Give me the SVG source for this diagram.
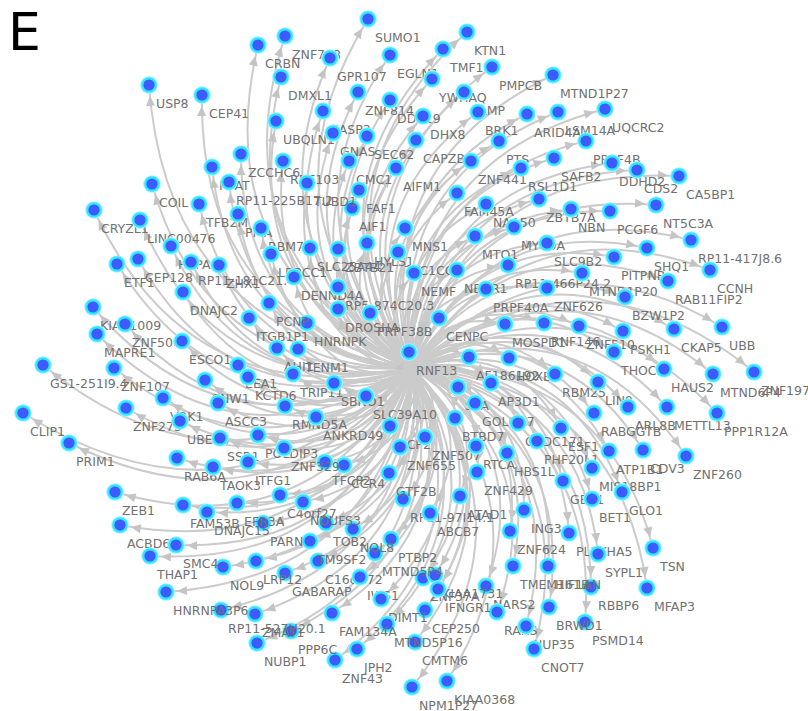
<svg xmlns="http://www.w3.org/2000/svg" width="808" height="711" viewBox="0 0 808 711">
<style>
.node text{font-family:"DejaVu Sans",Verdana,sans-serif;font-size:12.5px;fill:#717171}
#edges path{fill:none;stroke:#cbcbcb;stroke-width:2}
</style>
<defs>
<marker id="ah" markerUnits="userSpaceOnUse" markerWidth="10" markerHeight="9" refX="21" refY="4.5" orient="auto" overflow="visible"><path d="M0,0L10,4.5L0,9z" fill="#c4c4c4"/></marker>
<g id="dot"><circle r="8.8" fill="#9ef6ff"/><circle r="7.8" fill="#2ee6ff"/><circle r="5.6" fill="#3d5bff"/></g>
</defs>
<rect width="808" height="711" fill="#fff"/>
<text x="8" y="50" font-family="DejaVu Sans,sans-serif" font-size="52" fill="#000">E</text>
<g id="edges" marker-end="url(#ah)">
<path d="M412,368Q167,332 149,85"/><path d="M412,368Q198,316 202,95"/><path d="M412,368Q208,380 152,184"/><path d="M412,368Q240,371 199,204"/><path d="M412,368Q190,416 94,210"/><path d="M412,368Q217,403 140,220"/><path d="M412,368Q250,211 368,19"/><path d="M412,368Q216,253 285,36"/><path d="M412,368Q206,268 258,45"/><path d="M412,368Q247,246 330,58"/><path d="M412,368Q276,220 390,55"/><path d="M412,368Q230,275 281,77"/><path d="M412,368Q275,252 358,92"/><path d="M412,368Q294,243 390,100"/><path d="M412,368Q245,299 276,121"/><path d="M412,368Q265,275 323,111"/><path d="M412,368Q279,282 333,133"/><path d="M412,368Q297,270 367,136"/><path d="M412,368Q241,329 241,154"/><path d="M412,368Q265,316 283,161"/><path d="M412,368Q232,348 212,167"/><path d="M412,368Q246,348 229,182"/><path d="M412,368Q298,290 349,161"/><path d="M412,368Q314,300 359,190"/><path d="M412,368Q318,312 352,208"/><path d="M412,368Q324,274 396,168"/><path d="M412,368Q286,318 307,183"/><path d="M412,368Q263,361 238,214"/><path d="M412,368Q281,358 261,228"/><path d="M412,368Q353,301 405,228"/><path d="M412,368Q305,178 467,32"/><path d="M412,368Q300,196 443,49"/><path d="M412,368Q306,216 432,79"/><path d="M412,368Q332,186 492,67"/><path d="M412,368Q365,165 553,75"/><path d="M412,368Q328,209 464,92"/><path d="M412,368Q317,238 423,116"/><path d="M412,368Q323,252 416,140"/><path d="M412,368Q343,214 478,112"/><path d="M412,368Q368,195 527,114"/><path d="M412,368Q383,182 558,112"/><path d="M412,368Q405,161 605,109"/><path d="M412,368Q365,220 499,141"/><path d="M412,368Q359,241 471,161"/><path d="M412,368Q408,185 586,141"/><path d="M412,368Q399,206 554,158"/><path d="M412,368Q387,224 521,168"/><path d="M412,368Q365,263 457,193"/><path d="M412,368Q383,256 486,204"/><path d="M412,368Q408,233 539,199"/><path d="M412,368Q428,225 571,209"/><path d="M412,368Q448,210 610,211"/><path d="M412,368Q430,186 612,163"/><path d="M412,368Q445,179 637,170"/><path d="M412,368Q469,165 679,176"/><path d="M412,368Q469,189 656,205"/><path d="M412,368Q500,192 691,240"/><path d="M412,368Q243,403 171,246"/><path d="M412,368Q223,434 117,264"/><path d="M412,368Q231,423 138,259"/><path d="M412,368Q259,403 191,262"/><path d="M412,368Q274,394 219,265"/><path d="M412,368Q267,422 183,292"/><path d="M412,368Q228,465 93,307"/><path d="M412,368Q251,461 125,324"/><path d="M412,368Q241,477 97,334"/><path d="M412,368Q286,447 182,341"/><path d="M412,368Q226,514 43,365"/><path d="M412,368Q263,487 114,368"/><path d="M412,368Q313,457 205,380"/><path d="M412,368Q300,483 163,398"/><path d="M412,368Q285,502 126,408"/><path d="M412,368Q317,487 180,421"/><path d="M412,368Q236,546 23,413"/><path d="M412,368Q271,543 69,443"/><path d="M412,368Q331,507 177,458"/><path d="M412,368Q296,367 271,254"/><path d="M412,368Q313,349 310,248"/><path d="M412,368Q327,338 338,249"/><path d="M412,368Q340,324 367,243"/><path d="M412,368Q359,316 398,252"/><path d="M412,368Q317,370 294,277"/><path d="M412,368Q343,357 338,287"/><path d="M412,368Q351,368 338,309"/><path d="M412,368Q369,357 370,313"/><path d="M412,368Q404,361 409,352"/><path d="M412,368Q342,388 307,323"/><path d="M412,368Q311,408 249,318"/><path d="M412,368Q315,393 269,303"/><path d="M412,368Q337,412 277,348"/><path d="M412,368Q347,404 298,349"/><path d="M412,368Q324,436 238,365"/><path d="M412,368Q334,438 248,377"/><path d="M412,368Q355,419 293,374"/><path d="M412,368Q379,407 334,383"/><path d="M412,368Q329,463 218,403"/><path d="M412,368Q364,438 285,406"/><path d="M412,368Q400,400 366,396"/><path d="M412,368Q384,431 316,417"/><path d="M412,368Q362,463 258,435"/><path d="M412,368Q424,406 390,426"/><path d="M412,368Q438,412 400,447"/><path d="M412,368Q344,480 220,438"/><path d="M412,368Q368,481 248,462"/><path d="M412,368Q352,497 213,467"/><path d="M412,368Q406,450 325,462"/><path d="M412,368Q417,444 344,465"/><path d="M412,368Q380,459 284,448"/><path d="M412,368Q391,277 475,236"/><path d="M412,368Q407,257 514,227"/><path d="M412,368Q375,320 414,273"/><path d="M412,368Q395,301 457,270"/><path d="M412,368Q419,278 508,265"/><path d="M412,368Q430,252 547,243"/><path d="M412,368Q459,253 582,273"/><path d="M412,368Q448,274 547,288"/><path d="M412,368Q417,299 486,289"/><path d="M412,368Q406,332 439,318"/><path d="M412,368Q441,309 505,324"/><path d="M412,368Q460,293 544,323"/><path d="M412,368Q479,280 579,326"/><path d="M412,368Q436,340 469,357"/><path d="M412,368Q457,324 509,358"/><path d="M412,368Q486,314 555,374"/><path d="M412,368Q511,301 598,382"/><path d="M412,368Q443,359 458,387"/><path d="M412,368Q458,344 491,383"/><path d="M412,368Q458,360 475,403"/><path d="M412,368Q454,376 455,418"/><path d="M412,368Q487,353 518,423"/><path d="M412,368Q511,338 561,428"/><path d="M412,368Q446,397 425,437"/><path d="M412,368Q504,355 537,441"/><path d="M412,368Q475,381 476,446"/><path d="M412,368Q494,373 507,453"/><path d="M412,368Q521,318 594,413"/><path d="M412,368Q482,214 647,248"/><path d="M412,368Q469,232 614,257"/><path d="M412,368Q522,200 710,270"/><path d="M412,368Q505,222 668,281"/><path d="M412,368Q490,247 625,297"/><path d="M412,368Q551,224 722,327"/><path d="M412,368Q527,244 674,329"/><path d="M412,368Q503,265 623,331"/><path d="M412,368Q507,279 614,352"/><path d="M412,368Q538,268 664,369"/><path d="M412,368Q565,251 713,374"/><path d="M412,368Q585,233 754,372"/><path d="M412,368Q536,301 628,407"/><path d="M412,368Q555,286 667,407"/><path d="M412,368Q583,269 717,413"/><path d="M412,368Q544,331 609,451"/><path d="M412,368Q560,317 643,450"/><path d="M412,368Q584,302 686,456"/><path d="M412,368Q542,346 592,468"/><path d="M412,368Q567,346 622,492"/><path d="M412,368Q533,364 563,481"/><path d="M412,368Q554,362 592,499"/><path d="M412,368Q605,362 653,548"/><path d="M412,368Q618,384 647,588"/><path d="M412,368Q557,388 569,533"/><path d="M412,368Q579,387 598,554"/><path d="M412,368Q589,406 591,587"/><path d="M412,368Q600,426 585,622"/><path d="M412,368Q486,394 477,472"/><path d="M412,368Q487,413 460,496"/><path d="M412,368Q460,437 403,499"/><path d="M412,368Q479,433 430,513"/><path d="M412,368Q525,394 524,510"/><path d="M412,368Q526,410 510,531"/><path d="M412,368Q542,427 513,566"/><path d="M412,368Q559,413 548,566"/><path d="M412,368Q536,447 486,586"/><path d="M412,368Q576,433 549,607"/><path d="M412,368Q552,456 497,612"/><path d="M412,368Q572,451 526,626"/><path d="M412,368Q585,460 534,649"/><path d="M412,368Q555,511 447,681"/><path d="M412,368Q540,528 412,687"/><path d="M412,368Q523,504 415,642"/><path d="M412,368Q515,484 425,610"/><path d="M412,368Q502,469 423,578"/><path d="M412,368Q506,462 435,575"/><path d="M412,368Q513,468 438,589"/><path d="M412,368Q470,462 391,539"/><path d="M412,368Q468,475 375,553"/><path d="M412,368Q442,502 318,561"/><path d="M412,368Q470,493 360,577"/><path d="M412,368Q489,496 381,599"/><path d="M412,368Q502,506 387,624"/><path d="M412,368Q470,523 332,613"/><path d="M412,368Q497,531 357,649"/><path d="M412,368Q490,545 335,660"/><path d="M412,368Q457,548 291,631"/><path d="M412,368Q445,568 257,643"/><path d="M412,368Q432,554 255,614"/><path d="M412,368Q413,565 221,610"/><path d="M412,368Q379,578 166,592"/><path d="M412,368Q431,521 285,573"/><path d="M412,368Q411,527 256,561"/><path d="M412,368Q397,543 223,567"/><path d="M412,368Q430,495 310,541"/><path d="M412,368Q447,472 353,529"/><path d="M412,368Q431,480 326,523"/><path d="M412,368Q400,505 263,523"/><path d="M412,368Q379,506 237,503"/><path d="M412,368Q367,522 207,512"/><path d="M412,368Q352,528 183,505"/><path d="M412,368Q397,484 280,495"/><path d="M412,368Q411,479 303,502"/><path d="M412,368Q443,430 389,473"/><path d="M412,368Q313,549 115,492"/><path d="M412,368Q329,563 120,525"/><path d="M412,368Q365,551 176,545"/><path d="M412,368Q356,567 150,556"/>
</g>
<g id="nodes">
<g id="n1" class="node" transform="translate(149,85)"><use href="#dot"/><text x="7" y="23">USP8</text></g>
<g id="n2" class="node" transform="translate(202,95)"><use href="#dot"/><text x="7" y="23">CEP41</text></g>
<g id="n3" class="node" transform="translate(152,184)"><use href="#dot"/><text x="7" y="23">COIL</text></g>
<g id="n4" class="node" transform="translate(199,204)"><use href="#dot"/><text x="7" y="23">TFB2M</text></g>
<g id="n5" class="node" transform="translate(94,210)"><use href="#dot"/><text x="7" y="23">CRYZL1</text></g>
<g id="n6" class="node" transform="translate(140,220)"><use href="#dot"/><text x="7" y="23">LINC00476</text></g>
<g id="n7" class="node" transform="translate(368,19)"><use href="#dot"/><text x="7" y="23">SUMO1</text></g>
<g id="n8" class="node" transform="translate(285,36)"><use href="#dot"/><text x="7" y="23">ZNF708</text></g>
<g id="n9" class="node" transform="translate(258,45)"><use href="#dot"/><text x="7" y="23">CRBN</text></g>
<g id="n10" class="node" transform="translate(330,58)"><use href="#dot"/><text x="7" y="23">GPR107</text></g>
<g id="n11" class="node" transform="translate(390,55)"><use href="#dot"/><text x="7" y="23">EGLN1</text></g>
<g id="n12" class="node" transform="translate(281,77)"><use href="#dot"/><text x="7" y="23">DMXL1</text></g>
<g id="n13" class="node" transform="translate(358,92)"><use href="#dot"/><text x="7" y="23">ZNF814</text></g>
<g id="n14" class="node" transform="translate(390,100)"><use href="#dot"/><text x="7" y="23">DDX19</text></g>
<g id="n15" class="node" transform="translate(276,121)"><use href="#dot"/><text x="7" y="23">UBQLN1</text></g>
<g id="n16" class="node" transform="translate(323,111)"><use href="#dot"/><text x="7" y="23">CASP3</text></g>
<g id="n17" class="node" transform="translate(333,133)"><use href="#dot"/><text x="7" y="23">GNAS</text></g>
<g id="n18" class="node" transform="translate(367,136)"><use href="#dot"/><text x="7" y="23">SEC62</text></g>
<g id="n19" class="node" transform="translate(241,154)"><use href="#dot"/><text x="7" y="23">ZCCHC6</text></g>
<g id="n20" class="node" transform="translate(283,161)"><use href="#dot"/><text x="7" y="23">RNF103</text></g>
<g id="n21" class="node" transform="translate(212,167)"><use href="#dot"/><text x="7" y="23">NFAT</text></g>
<g id="n22" class="node" transform="translate(229,182)"><use href="#dot"/><text x="7" y="23">RP11-225B17.2</text></g>
<g id="n23" class="node" transform="translate(349,161)"><use href="#dot"/><text x="7" y="23">CMC1</text></g>
<g id="n24" class="node" transform="translate(359,190)"><use href="#dot"/><text x="7" y="23">FAF1</text></g>
<g id="n25" class="node" transform="translate(352,208)"><use href="#dot"/><text x="7" y="23">AIF1</text></g>
<g id="n26" class="node" transform="translate(396,168)"><use href="#dot"/><text x="7" y="23">AIFM1</text></g>
<g id="n27" class="node" transform="translate(307,183)"><use href="#dot"/><text x="7" y="23">TUBD1</text></g>
<g id="n28" class="node" transform="translate(238,214)"><use href="#dot"/><text x="7" y="23">PPIA</text></g>
<g id="n29" class="node" transform="translate(261,228)"><use href="#dot"/><text x="7" y="23">RBM7</text></g>
<g id="n30" class="node" transform="translate(405,228)"><use href="#dot"/><text x="7" y="23">MNS1</text></g>
<g id="n31" class="node" transform="translate(467,32)"><use href="#dot"/><text x="7" y="23">KTN1</text></g>
<g id="n32" class="node" transform="translate(443,49)"><use href="#dot"/><text x="7" y="23">TMF1</text></g>
<g id="n33" class="node" transform="translate(432,79)"><use href="#dot"/><text x="7" y="23">YWHAQ</text></g>
<g id="n34" class="node" transform="translate(492,67)"><use href="#dot"/><text x="7" y="23">PMPCB</text></g>
<g id="n35" class="node" transform="translate(553,75)"><use href="#dot"/><text x="7" y="23">MTND1P27</text></g>
<g id="n36" class="node" transform="translate(464,92)"><use href="#dot"/><text x="7" y="23">CLMP</text></g>
<g id="n37" class="node" transform="translate(423,116)"><use href="#dot"/><text x="7" y="23">DHX8</text></g>
<g id="n38" class="node" transform="translate(416,140)"><use href="#dot"/><text x="7" y="23">CAPZB</text></g>
<g id="n39" class="node" transform="translate(478,112)"><use href="#dot"/><text x="7" y="23">BRK1</text></g>
<g id="n40" class="node" transform="translate(527,114)"><use href="#dot"/><text x="7" y="23">ARID4A</text></g>
<g id="n41" class="node" transform="translate(558,112)"><use href="#dot"/><text x="7" y="23">LSM14A</text></g>
<g id="n42" class="node" transform="translate(605,109)"><use href="#dot"/><text x="7" y="23">UQCRC2</text></g>
<g id="n43" class="node" transform="translate(499,141)"><use href="#dot"/><text x="7" y="23">PTS</text></g>
<g id="n44" class="node" transform="translate(471,161)"><use href="#dot"/><text x="7" y="23">ZNF441</text></g>
<g id="n45" class="node" transform="translate(586,141)"><use href="#dot"/><text x="7" y="23">PRPF4B</text></g>
<g id="n46" class="node" transform="translate(554,158)"><use href="#dot"/><text x="7" y="23">SAFB2</text></g>
<g id="n47" class="node" transform="translate(521,168)"><use href="#dot"/><text x="7" y="23">RSL1D1</text></g>
<g id="n48" class="node" transform="translate(457,193)"><use href="#dot"/><text x="7" y="23">FAM45A</text></g>
<g id="n49" class="node" transform="translate(486,204)"><use href="#dot"/><text x="7" y="23">NAA50</text></g>
<g id="n50" class="node" transform="translate(539,199)"><use href="#dot"/><text x="7" y="23">ZBTB7A</text></g>
<g id="n51" class="node" transform="translate(571,209)"><use href="#dot"/><text x="7" y="23">NBN</text></g>
<g id="n52" class="node" transform="translate(610,211)"><use href="#dot"/><text x="7" y="23">PCGF6</text></g>
<g id="n53" class="node" transform="translate(612,163)"><use href="#dot"/><text x="7" y="23">DDHD2</text></g>
<g id="n54" class="node" transform="translate(637,170)"><use href="#dot"/><text x="7" y="23">CDS2</text></g>
<g id="n55" class="node" transform="translate(679,176)"><use href="#dot"/><text x="7" y="23">CA5BP1</text></g>
<g id="n56" class="node" transform="translate(656,205)"><use href="#dot"/><text x="7" y="23">NT5C3A</text></g>
<g id="n57" class="node" transform="translate(691,240)"><use href="#dot"/><text x="7" y="23">RP11-417J8.6</text></g>
<g id="n58" class="node" transform="translate(171,246)"><use href="#dot"/><text x="7" y="23">HSPA9</text></g>
<g id="n59" class="node" transform="translate(117,264)"><use href="#dot"/><text x="7" y="23">ETF1</text></g>
<g id="n60" class="node" transform="translate(138,259)"><use href="#dot"/><text x="7" y="23">CEP128</text></g>
<g id="n61" class="node" transform="translate(191,262)"><use href="#dot"/><text x="7" y="23">RP11-181C21.4</text></g>
<g id="n62" class="node" transform="translate(219,265)"><use href="#dot"/><text x="7" y="23">ZHX1</text></g>
<g id="n63" class="node" transform="translate(183,292)"><use href="#dot"/><text x="7" y="23">DNAJC2</text></g>
<g id="n64" class="node" transform="translate(93,307)"><use href="#dot"/><text x="7" y="23">KIAA1009</text></g>
<g id="n65" class="node" transform="translate(125,324)"><use href="#dot"/><text x="7" y="23">ZNF506</text></g>
<g id="n66" class="node" transform="translate(97,334)"><use href="#dot"/><text x="7" y="23">MAPRE1</text></g>
<g id="n67" class="node" transform="translate(182,341)"><use href="#dot"/><text x="7" y="23">ESCO1</text></g>
<g id="n68" class="node" transform="translate(43,365)"><use href="#dot"/><text x="7" y="23">GS1-251I9.4</text></g>
<g id="n69" class="node" transform="translate(114,368)"><use href="#dot"/><text x="7" y="23">ZNF107</text></g>
<g id="n70" class="node" transform="translate(205,380)"><use href="#dot"/><text x="7" y="23">SNW1</text></g>
<g id="n71" class="node" transform="translate(163,398)"><use href="#dot"/><text x="7" y="23">VRK1</text></g>
<g id="n72" class="node" transform="translate(126,408)"><use href="#dot"/><text x="7" y="23">ZNF273</text></g>
<g id="n73" class="node" transform="translate(180,421)"><use href="#dot"/><text x="7" y="23">UBE2B</text></g>
<g id="n74" class="node" transform="translate(23,413)"><use href="#dot"/><text x="7" y="23">CLIP1</text></g>
<g id="n75" class="node" transform="translate(69,443)"><use href="#dot"/><text x="7" y="23">PRIM1</text></g>
<g id="n76" class="node" transform="translate(177,458)"><use href="#dot"/><text x="7" y="23">RAB6A</text></g>
<g id="n77" class="node" transform="translate(271,254)"><use href="#dot"/><text x="7" y="23">LRRCC1</text></g>
<g id="n78" class="node" transform="translate(310,248)"><use href="#dot"/><text x="7" y="23">SLC25A44</text></g>
<g id="n79" class="node" transform="translate(338,249)"><use href="#dot"/><text x="7" y="23">ZBTB21</text></g>
<g id="n80" class="node" transform="translate(367,243)"><use href="#dot"/><text x="7" y="23">HYLS1</text></g>
<g id="n81" class="node" transform="translate(398,252)"><use href="#dot"/><text x="7" y="23">TTC1CC</text></g>
<g id="n82" class="node" transform="translate(294,277)"><use href="#dot"/><text x="7" y="23">DENND4A</text></g>
<g id="n83" class="node" transform="translate(338,287)"><use href="#dot"/><text x="7" y="23">RP5-874C20.3</text></g>
<g id="n84" class="node" transform="translate(338,309)"><use href="#dot"/><text x="7" y="23">DROSHA</text></g>
<g id="n85" class="node" transform="translate(370,313)"><use href="#dot"/><text x="7" y="23">PRPF38B</text></g>
<g id="n86" class="node" transform="translate(409,352)"><use href="#dot"/><text x="7" y="23">RNF13</text></g>
<g id="n87" class="node" transform="translate(307,323)"><use href="#dot"/><text x="7" y="23">HNRNPK</text></g>
<g id="n88" class="node" transform="translate(249,318)"><use href="#dot"/><text x="7" y="23">ITGB1P1</text></g>
<g id="n89" class="node" transform="translate(269,303)"><use href="#dot"/><text x="7" y="23">PCNP</text></g>
<g id="n90" class="node" transform="translate(277,348)"><use href="#dot"/><text x="7" y="23">AHI1</text></g>
<g id="n91" class="node" transform="translate(298,349)"><use href="#dot"/><text x="7" y="23">TENM1</text></g>
<g id="n92" class="node" transform="translate(238,365)"><use href="#dot"/><text x="7" y="23">EEA1</text></g>
<g id="n93" class="node" transform="translate(248,377)"><use href="#dot"/><text x="7" y="23">KCTD6</text></g>
<g id="n94" class="node" transform="translate(293,374)"><use href="#dot"/><text x="7" y="23">TRIP11</text></g>
<g id="n95" class="node" transform="translate(334,383)"><use href="#dot"/><text x="7" y="23">SBNO1</text></g>
<g id="n96" class="node" transform="translate(218,403)"><use href="#dot"/><text x="7" y="23">ASCC3</text></g>
<g id="n97" class="node" transform="translate(285,406)"><use href="#dot"/><text x="7" y="23">RMND5A</text></g>
<g id="n98" class="node" transform="translate(366,396)"><use href="#dot"/><text x="7" y="23">SLC39A10</text></g>
<g id="n99" class="node" transform="translate(316,417)"><use href="#dot"/><text x="7" y="23">ANKRD49</text></g>
<g id="n100" class="node" transform="translate(258,435)"><use href="#dot"/><text x="7" y="23">POLDIP3</text></g>
<g id="n101" class="node" transform="translate(390,426)"><use href="#dot"/><text x="7" y="23">DCP2</text></g>
<g id="n102" class="node" transform="translate(400,447)"><use href="#dot"/><text x="7" y="23">ZNF655</text></g>
<g id="n103" class="node" transform="translate(220,438)"><use href="#dot"/><text x="7" y="23">SSR1</text></g>
<g id="n104" class="node" transform="translate(248,462)"><use href="#dot"/><text x="7" y="23">ITFG1</text></g>
<g id="n105" class="node" transform="translate(213,467)"><use href="#dot"/><text x="7" y="23">TAOK3</text></g>
<g id="n106" class="node" transform="translate(325,462)"><use href="#dot"/><text x="7" y="23">TFCP2</text></g>
<g id="n107" class="node" transform="translate(344,465)"><use href="#dot"/><text x="7" y="23">CCR4</text></g>
<g id="n108" class="node" transform="translate(284,448)"><use href="#dot"/><text x="7" y="23">ZNF329</text></g>
<g id="n109" class="node" transform="translate(475,236)"><use href="#dot"/><text x="7" y="23">MTO1</text></g>
<g id="n110" class="node" transform="translate(514,227)"><use href="#dot"/><text x="7" y="23">MYO9A</text></g>
<g id="n111" class="node" transform="translate(414,273)"><use href="#dot"/><text x="7" y="23">NEMF</text></g>
<g id="n112" class="node" transform="translate(457,270)"><use href="#dot"/><text x="7" y="23">NEGR1</text></g>
<g id="n113" class="node" transform="translate(508,265)"><use href="#dot"/><text x="7" y="23">RP11-466P24.2</text></g>
<g id="n114" class="node" transform="translate(547,243)"><use href="#dot"/><text x="7" y="23">SLC9B2</text></g>
<g id="n115" class="node" transform="translate(582,273)"><use href="#dot"/><text x="7" y="23">MTND1P20</text></g>
<g id="n116" class="node" transform="translate(547,288)"><use href="#dot"/><text x="7" y="23">ZNF626</text></g>
<g id="n117" class="node" transform="translate(486,289)"><use href="#dot"/><text x="7" y="23">PRPF40A</text></g>
<g id="n118" class="node" transform="translate(439,318)"><use href="#dot"/><text x="7" y="23">CENPC</text></g>
<g id="n119" class="node" transform="translate(505,324)"><use href="#dot"/><text x="7" y="23">MOSPD1</text></g>
<g id="n120" class="node" transform="translate(544,323)"><use href="#dot"/><text x="7" y="23">RNF146</text></g>
<g id="n121" class="node" transform="translate(579,326)"><use href="#dot"/><text x="7" y="23">ZNF510</text></g>
<g id="n122" class="node" transform="translate(469,357)"><use href="#dot"/><text x="7" y="23">AF186192</text></g>
<g id="n123" class="node" transform="translate(509,358)"><use href="#dot"/><text x="7" y="23">HOXB4</text></g>
<g id="n124" class="node" transform="translate(555,374)"><use href="#dot"/><text x="7" y="23">RBM25</text></g>
<g id="n125" class="node" transform="translate(598,382)"><use href="#dot"/><text x="7" y="23">LIN9</text></g>
<g id="n126" class="node" transform="translate(458,387)"><use href="#dot"/><text x="7" y="23">SLA</text></g>
<g id="n127" class="node" transform="translate(491,383)"><use href="#dot"/><text x="7" y="23">AP3D1</text></g>
<g id="n128" class="node" transform="translate(475,403)"><use href="#dot"/><text x="7" y="23">GOLGA7</text></g>
<g id="n129" class="node" transform="translate(455,418)"><use href="#dot"/><text x="7" y="23">BTBD7</text></g>
<g id="n130" class="node" transform="translate(518,423)"><use href="#dot"/><text x="7" y="23">CCDC171</text></g>
<g id="n131" class="node" transform="translate(561,428)"><use href="#dot"/><text x="7" y="23">ESF1</text></g>
<g id="n132" class="node" transform="translate(425,437)"><use href="#dot"/><text x="7" y="23">ZNF507</text></g>
<g id="n133" class="node" transform="translate(537,441)"><use href="#dot"/><text x="7" y="23">PHF20L1</text></g>
<g id="n134" class="node" transform="translate(476,446)"><use href="#dot"/><text x="7" y="23">RTCA</text></g>
<g id="n135" class="node" transform="translate(507,453)"><use href="#dot"/><text x="7" y="23">HBS1L</text></g>
<g id="n136" class="node" transform="translate(594,413)"><use href="#dot"/><text x="7" y="23">RABGGTB</text></g>
<g id="n137" class="node" transform="translate(647,248)"><use href="#dot"/><text x="7" y="23">SHQ1</text></g>
<g id="n138" class="node" transform="translate(614,257)"><use href="#dot"/><text x="7" y="23">PITPNB</text></g>
<g id="n139" class="node" transform="translate(710,270)"><use href="#dot"/><text x="7" y="23">CCNH</text></g>
<g id="n140" class="node" transform="translate(668,281)"><use href="#dot"/><text x="7" y="23">RAB11FIP2</text></g>
<g id="n141" class="node" transform="translate(625,297)"><use href="#dot"/><text x="7" y="23">BZW1P2</text></g>
<g id="n142" class="node" transform="translate(722,327)"><use href="#dot"/><text x="7" y="23">UBB</text></g>
<g id="n143" class="node" transform="translate(674,329)"><use href="#dot"/><text x="7" y="23">CKAP5</text></g>
<g id="n144" class="node" transform="translate(623,331)"><use href="#dot"/><text x="7" y="23">PSKH1</text></g>
<g id="n145" class="node" transform="translate(614,352)"><use href="#dot"/><text x="7" y="23">THOC2</text></g>
<g id="n146" class="node" transform="translate(664,369)"><use href="#dot"/><text x="7" y="23">HAUS2</text></g>
<g id="n147" class="node" transform="translate(713,374)"><use href="#dot"/><text x="7" y="23">MTND6P4</text></g>
<g id="n148" class="node" transform="translate(754,372)"><use href="#dot"/><text x="7" y="23">ZNF197</text></g>
<g id="n149" class="node" transform="translate(628,407)"><use href="#dot"/><text x="7" y="23">ARL8B</text></g>
<g id="n150" class="node" transform="translate(667,407)"><use href="#dot"/><text x="7" y="23">METTL13</text></g>
<g id="n151" class="node" transform="translate(717,413)"><use href="#dot"/><text x="7" y="23">PPP1R12A</text></g>
<g id="n152" class="node" transform="translate(609,451)"><use href="#dot"/><text x="7" y="23">ATP1B1</text></g>
<g id="n153" class="node" transform="translate(643,450)"><use href="#dot"/><text x="7" y="23">CDV3</text></g>
<g id="n154" class="node" transform="translate(686,456)"><use href="#dot"/><text x="7" y="23">ZNF260</text></g>
<g id="n155" class="node" transform="translate(592,468)"><use href="#dot"/><text x="7" y="23">MIS18BP1</text></g>
<g id="n156" class="node" transform="translate(622,492)"><use href="#dot"/><text x="7" y="23">GLO1</text></g>
<g id="n157" class="node" transform="translate(563,481)"><use href="#dot"/><text x="7" y="23">GBE1</text></g>
<g id="n158" class="node" transform="translate(592,499)"><use href="#dot"/><text x="7" y="23">BET1</text></g>
<g id="n159" class="node" transform="translate(653,548)"><use href="#dot"/><text x="7" y="23">TSN</text></g>
<g id="n160" class="node" transform="translate(647,588)"><use href="#dot"/><text x="7" y="23">MFAP3</text></g>
<g id="n161" class="node" transform="translate(569,533)"><use href="#dot"/><text x="7" y="23">PLEKHA5</text></g>
<g id="n162" class="node" transform="translate(598,554)"><use href="#dot"/><text x="7" y="23">SYPL1</text></g>
<g id="n163" class="node" transform="translate(591,587)"><use href="#dot"/><text x="7" y="23">RBBP6</text></g>
<g id="n164" class="node" transform="translate(585,622)"><use href="#dot"/><text x="7" y="23">PSMD14</text></g>
<g id="n165" class="node" transform="translate(477,472)"><use href="#dot"/><text x="7" y="23">ZNF429</text></g>
<g id="n166" class="node" transform="translate(460,496)"><use href="#dot"/><text x="7" y="23">ATAD1</text></g>
<g id="n167" class="node" transform="translate(403,499)"><use href="#dot"/><text x="7" y="23">RP11-97I14.1</text></g>
<g id="n168" class="node" transform="translate(430,513)"><use href="#dot"/><text x="7" y="23">ABCB7</text></g>
<g id="n169" class="node" transform="translate(524,510)"><use href="#dot"/><text x="7" y="23">ING3</text></g>
<g id="n170" class="node" transform="translate(510,531)"><use href="#dot"/><text x="7" y="23">ZNF624</text></g>
<g id="n171" class="node" transform="translate(513,566)"><use href="#dot"/><text x="7" y="23">TMEM161B</text></g>
<g id="n172" class="node" transform="translate(548,566)"><use href="#dot"/><text x="7" y="23">HIF1AN</text></g>
<g id="n173" class="node" transform="translate(486,586)"><use href="#dot"/><text x="7" y="23">NARS2</text></g>
<g id="n174" class="node" transform="translate(549,607)"><use href="#dot"/><text x="7" y="23">BRWD1</text></g>
<g id="n175" class="node" transform="translate(497,612)"><use href="#dot"/><text x="7" y="23">RARS</text></g>
<g id="n176" class="node" transform="translate(526,626)"><use href="#dot"/><text x="7" y="23">NUP35</text></g>
<g id="n177" class="node" transform="translate(534,649)"><use href="#dot"/><text x="7" y="23">CNOT7</text></g>
<g id="n178" class="node" transform="translate(447,681)"><use href="#dot"/><text x="7" y="23">KIAA0368</text></g>
<g id="n179" class="node" transform="translate(412,687)"><use href="#dot"/><text x="7" y="23">NPM1P27</text></g>
<g id="n180" class="node" transform="translate(415,642)"><use href="#dot"/><text x="7" y="23">CMTM6</text></g>
<g id="n181" class="node" transform="translate(425,610)"><use href="#dot"/><text x="7" y="23">CEP250</text></g>
<g id="n182" class="node" transform="translate(423,578)"><use href="#dot"/><text x="7" y="23">ZNF37A</text></g>
<g id="n183" class="node" transform="translate(435,575)"><use href="#dot"/><text x="7" y="23">KIAA1731</text></g>
<g id="n184" class="node" transform="translate(438,589)"><use href="#dot"/><text x="7" y="23">IFNGR1</text></g>
<g id="n185" class="node" transform="translate(391,539)"><use href="#dot"/><text x="7" y="23">PTBP2</text></g>
<g id="n186" class="node" transform="translate(375,553)"><use href="#dot"/><text x="7" y="23">MTND5P4</text></g>
<g id="n187" class="node" transform="translate(318,561)"><use href="#dot"/><text x="7" y="23">C16orf72</text></g>
<g id="n188" class="node" transform="translate(360,577)"><use href="#dot"/><text x="7" y="23">IWS1</text></g>
<g id="n189" class="node" transform="translate(381,599)"><use href="#dot"/><text x="7" y="23">DIMT1</text></g>
<g id="n190" class="node" transform="translate(387,624)"><use href="#dot"/><text x="7" y="23">MTND5P16</text></g>
<g id="n191" class="node" transform="translate(332,613)"><use href="#dot"/><text x="7" y="23">FAM134A</text></g>
<g id="n192" class="node" transform="translate(357,649)"><use href="#dot"/><text x="7" y="23">JPH2</text></g>
<g id="n193" class="node" transform="translate(335,660)"><use href="#dot"/><text x="7" y="23">ZNF43</text></g>
<g id="n194" class="node" transform="translate(291,631)"><use href="#dot"/><text x="7" y="23">PPP6C</text></g>
<g id="n195" class="node" transform="translate(257,643)"><use href="#dot"/><text x="7" y="23">NUBP1</text></g>
<g id="n196" class="node" transform="translate(255,614)"><use href="#dot"/><text x="7" y="23">ZMAT1</text></g>
<g id="n197" class="node" transform="translate(221,610)"><use href="#dot"/><text x="7" y="23">RP11-527H20.1</text></g>
<g id="n198" class="node" transform="translate(166,592)"><use href="#dot"/><text x="7" y="23">HNRNPA3P6</text></g>
<g id="n199" class="node" transform="translate(285,573)"><use href="#dot"/><text x="7" y="23">GABARAP</text></g>
<g id="n200" class="node" transform="translate(256,561)"><use href="#dot"/><text x="7" y="23">LRP12</text></g>
<g id="n201" class="node" transform="translate(223,567)"><use href="#dot"/><text x="7" y="23">NOL9</text></g>
<g id="n202" class="node" transform="translate(310,541)"><use href="#dot"/><text x="7" y="23">TM9SF2</text></g>
<g id="n203" class="node" transform="translate(353,529)"><use href="#dot"/><text x="7" y="23">NOL8</text></g>
<g id="n204" class="node" transform="translate(326,523)"><use href="#dot"/><text x="7" y="23">TOB2</text></g>
<g id="n205" class="node" transform="translate(263,523)"><use href="#dot"/><text x="7" y="23">PARN</text></g>
<g id="n206" class="node" transform="translate(237,503)"><use href="#dot"/><text x="7" y="23">EFR3A</text></g>
<g id="n207" class="node" transform="translate(207,512)"><use href="#dot"/><text x="7" y="23">DNAJC15</text></g>
<g id="n208" class="node" transform="translate(183,505)"><use href="#dot"/><text x="7" y="23">FAM53B</text></g>
<g id="n209" class="node" transform="translate(280,495)"><use href="#dot"/><text x="7" y="23">C4orf27</text></g>
<g id="n210" class="node" transform="translate(303,502)"><use href="#dot"/><text x="7" y="23">NDUFS3</text></g>
<g id="n211" class="node" transform="translate(389,473)"><use href="#dot"/><text x="7" y="23">GTF2B</text></g>
<g id="n212" class="node" transform="translate(115,492)"><use href="#dot"/><text x="7" y="23">ZEB1</text></g>
<g id="n213" class="node" transform="translate(120,525)"><use href="#dot"/><text x="7" y="23">ACBD6</text></g>
<g id="n214" class="node" transform="translate(176,545)"><use href="#dot"/><text x="7" y="23">SMC4</text></g>
<g id="n215" class="node" transform="translate(150,556)"><use href="#dot"/><text x="7" y="23">THAP1</text></g>
</g>
</svg>
